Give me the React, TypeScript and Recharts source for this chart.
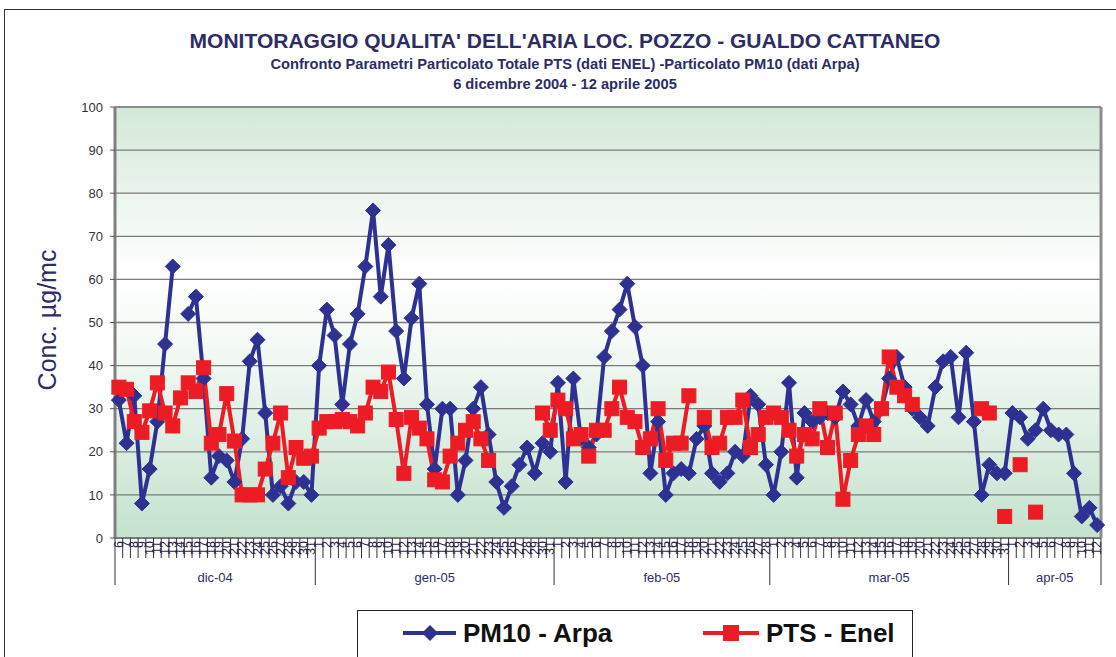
import React from 'react';
import { LineChart, Line, XAxis, YAxis, CartesianGrid, ReferenceLine } from 'recharts';

// ---- categories ----
const monthLabels = ['dic-04', 'gen-05', 'feb-05', 'mar-05', 'apr-05'];
const monthFirstDay = [6, 1, 1, 1, 1];
const monthLastDay = [31, 31, 28, 31, 12];

// ---- series values (µg/mc) ----
const pm10Dec = [32, 22, 33, 8, 16, 27, 45, 63, null, 52, 56, 37, 14, 19, 18, 13, 23, 41, 46, 29, 10, 12, 8, 13, 13, 10];
const pm10Jan = [40, 53, 47, 31, 45, 52, 63, 76, 56, 68, 48, 37, 51, 59, 31, 16, 30, 30, 10, 18, 30, 35, 24, 13, 7, 12, 17, 21, 15, 22, 20];
const pm10Feb = [36, 13, 37, 23, 21, 24, 42, 48, 53, 59, 49, 40, 15, 27, 10, 15, 16, 15, 23, 26, 15, 13, 15, 20, 19, 33, 31, 17];
const pm10Mar = [10, 20, 36, 14, 29, 27, 28, 29, 28, 34, 31, 26, 32, 27, 30, 37, 42, 35, 30, 28, 26, 35, 41, 42, 28, 43, 27, 10, 17, 15, 15];
const pm10Apr = [29, 28, 23, 25, 30, 25, 24, 24, 15, 5, 7, 3];

const ptsDec = [35, 34.5, 27, 24.5, 29.5, 36, 29, 26, 32.5, 36, 34, 39.5, 22, 24, 33.5, 22.5, 10, 10, 10, 16, 22, 29, 14, 21, 18.5, 19];
const ptsJan = [25.5, 27, 27, 27.5, 27, 26, 29, 35, 34, 38.5, 27.5, 15, 28, 25.5, 23, 13.5, 13, 19, 22, 25, 27, 23, 18, null, null, null, null, null, null, 29, 25];
const ptsFeb = [32, 30, 23, 24, 19, 25, 25, 30, 35, 28, 27, 21, 23, 30, 18, 22, 22, 33, null, 28, 21, 22, 28, 28, 32, 21, 24, 28];
const ptsMar = [29, 28, 25, 19, 24, 23, 30, 21, 29, 9, 18, 24, 26, 24, 30, 42, 35, 33, 31, null, null, null, null, null, null, null, null, 30, 29, null, 5];
const ptsApr = [null, 17, null, 6, null, null, null, null, null, null, null, null];

const pm10ByMonth = [pm10Dec, pm10Jan, pm10Feb, pm10Mar, pm10Apr];
const ptsByMonth = [ptsDec, ptsJan, ptsFeb, ptsMar, ptsApr];

const yTicks = [0, 10, 20, 30, 40, 50, 60, 70, 80, 90, 100];

type Row = { key: string; day: number; month: number; first: boolean; len: number; pm10: number | null; pts: number | null };
const rows: Row[] = [];
monthLabels.forEach((m, mi) => {
  const len = monthLastDay[mi] - monthFirstDay[mi] + 1;
  for (let k = 0; k < len; k++) {
    rows.push({
      key: `${m}-${monthFirstDay[mi] + k}`,
      day: monthFirstDay[mi] + k,
      month: mi,
      first: k === 0,
      len,
      pm10: pm10ByMonth[mi][k],
      pts: ptsByMonth[mi][k],
    });
  }
});

// ---- layout ----
const W = 1116;
const H = 657;
const PLOT_LEFT = 115;
const PLOT_RIGHT = 1101;
const PLOT_TOP = 107;
const AXIS_Y = 538;
const BW = (PLOT_RIGHT - PLOT_LEFT) / rows.length;
const FONT = '"Liberation Sans", Arial, sans-serif';
const NAVY = '#2d2d66';
const BLUE = '#2e3192';
const RED = '#ed1c24';

const DayTick = (props: any) => {
  const { x, payload } = props;
  const i = payload && payload.index != null ? payload.index : props.index;
  const row = rows[i];
  if (!row) return <g />;
  const left = x - BW / 2;
  const ty = AXIS_Y + 3;
  return (
    <g>
      <line x1={left} x2={left} y1={AXIS_Y} y2={row.first ? AXIS_Y + 47 : AXIS_Y + 20} stroke="#333" strokeWidth={1} />
      {i === rows.length - 1 && (
        <line x1={x + BW / 2} x2={x + BW / 2} y1={AXIS_Y} y2={AXIS_Y + 47} stroke="#333" strokeWidth={1} />
      )}
      <text
        x={x}
        y={ty}
        transform={`rotate(-90, ${x}, ${ty})`}
        textAnchor="end"
        dominantBaseline="central"
        fontSize={12.5}
        fontFamily={FONT}
        fill="#26264f"
      >
        {row.day}
      </text>
      {row.first && (
        <text x={left + (row.len * BW) / 2} y={AXIS_Y + 44} textAnchor="middle" fontSize={13} fontFamily={FONT} fill={NAVY}>
          {monthLabels[row.month]}
        </text>
      )}
    </g>
  );
};

const Diamond = (props: any) => {
  const { cx, cy, index, value } = props;
  if (cx == null || cy == null || value == null) return <g key={`pd${index}`} />;
  const r = 7.5;
  return (
    <path key={`pd${index}`} d={`M${cx},${cy - r}L${cx + r},${cy}L${cx},${cy + r}L${cx - r},${cy}Z`} fill={BLUE} stroke={BLUE} strokeWidth={1} />
  );
};

const Square = (props: any) => {
  const { cx, cy, index, value } = props;
  if (cx == null || cy == null || value == null) return <g key={`ps${index}`} />;
  const s = 14;
  return <rect key={`ps${index}`} x={cx - s / 2} y={cy - s / 2} width={s} height={s} fill={RED} stroke={RED} strokeWidth={1} />;
};

const YTitle = () => (
  <text x={47} y={320} transform="rotate(-90, 47, 320)" textAnchor="middle" dominantBaseline="central" fontSize={25} fontFamily={FONT} fill={NAVY}>
    Conc. µg/mc
  </text>
);

export default function App() {
  return (
    <div style={{ position: 'absolute', left: 0, top: 0, width: W, height: H, overflow: 'hidden', background: '#fff', fontFamily: FONT }}>
      <div style={{ position: 'absolute', left: 4, top: 9, width: W + 20, height: H + 20, border: '1.5px solid #333' }} />
      <div style={{ position: 'absolute', left: 0, width: 1130, top: 29, textAlign: 'center', fontSize: 21, fontWeight: 'bold', color: NAVY, lineHeight: '24px' }}>
        MONITORAGGIO QUALITA' DELL'ARIA LOC. POZZO - GUALDO CATTANEO
      </div>
      <div style={{ position: 'absolute', left: 0, width: 1130, top: 56, textAlign: 'center', fontSize: 14.7, fontWeight: 'bold', color: NAVY, lineHeight: '16px' }}>
        Confronto Parametri Particolato Totale PTS (dati ENEL) -Particolato PM10 (dati Arpa)
      </div>
      <div style={{ position: 'absolute', left: 0, width: 1130, top: 76, textAlign: 'center', fontSize: 14.7, fontWeight: 'bold', color: NAVY, lineHeight: '16px' }}>
        6 dicembre 2004 - 12 aprile 2005
      </div>
      <div style={{ position: 'absolute', left: 0, top: 0 }}>
        <LineChart width={W} height={H} data={rows} margin={{ top: PLOT_TOP, right: W - PLOT_RIGHT - 1, bottom: 0, left: 0 }}>
          <defs>
            <linearGradient id="plotBg" x1="0" y1="0" x2="0" y2="1">
              <stop offset="0%" stopColor="#d3e8d8" />
              <stop offset="38%" stopColor="#ffffff" />
              <stop offset="55%" stopColor="#f4faf5" />
              <stop offset="100%" stopColor="#c4e2ce" />
            </linearGradient>
          </defs>
          <CartesianGrid vertical={false} stroke="#7a7a7a" strokeWidth={1.3} fill="url(#plotBg)" fillOpacity={1} />
          <XAxis
            dataKey="key"
            interval={0}
            height={H - AXIS_Y}
            padding={{ left: BW / 2, right: BW / 2 }}
            tick={<DayTick />}
            tickLine={false}
            axisLine={{ stroke: '#7a7a7a', strokeWidth: 2 }}
          />
          <YAxis
            domain={[0, 100]}
            ticks={yTicks}
            interval={0}
            width={PLOT_LEFT}
            tickSize={5}
            tickMargin={7}
            tick={{ fontSize: 13, fill: '#333', fontFamily: FONT }}
            tickLine={{ stroke: '#555' }}
            axisLine={{ stroke: '#808080', strokeWidth: 3 }}
            label={<YTitle />}
          />
          <YAxis yAxisId="r" orientation="right" width={1} tick={false} tickLine={false} axisLine={{ stroke: '#8c8c8c', strokeWidth: 3 }} />
          <ReferenceLine y={100} stroke="#8c8c8c" strokeWidth={2} />
          <Line dataKey="pm10" name="PM10 - Arpa" stroke={BLUE} strokeWidth={4} dot={Diamond} activeDot={false} connectNulls={false} isAnimationActive={false} />
          <Line dataKey="pts" name="PTS - Enel" stroke={RED} strokeWidth={4} dot={Square} activeDot={false} connectNulls={false} isAnimationActive={false} />
        </LineChart>
      </div>
      <div style={{ position: 'absolute', left: 357, top: 610, width: 554, height: 80, border: '1.5px solid #222', background: '#fff' }}>
        <svg width={554} height={50} style={{ position: 'absolute', left: 0, top: 0 }}>
          <line x1={45} x2={98} y1={22} y2={22} stroke={BLUE} strokeWidth={4} />
          <path d="M72,14L80,22L72,30L64,22Z" fill={BLUE} />
          <text x={105} y={31} fontSize={26} fontWeight="bold" fontFamily={FONT} fill="#111">PM10 - Arpa</text>
          <line x1={345} x2={401} y1={22} y2={22} stroke={RED} strokeWidth={4} />
          <rect x={365} y={14} width={16} height={16} fill={RED} />
          <text x={408} y={31} fontSize={26} fontWeight="bold" fontFamily={FONT} fill="#111">PTS - Enel</text>
        </svg>
      </div>
    </div>
  );
}
